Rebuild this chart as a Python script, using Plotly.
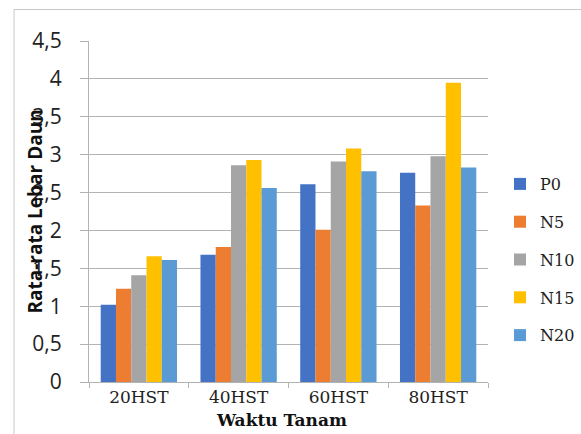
import plotly.graph_objects as go

# Umur tanaman (hari setelah tanam)
waktu = ["20HST", "40HST", "60HST", "80HST"]

# Rata-rata lebar daun per perlakuan
p0 = [1.02, 1.68, 2.61, 2.76]
n5 = [1.23, 1.78, 2.01, 2.33]
n10 = [1.41, 2.86, 2.91, 2.98]
n15 = [1.66, 2.93, 3.08, 3.95]
n20 = [1.61, 2.56, 2.78, 2.83]

perlakuan = ["P0", "N5", "N10", "N15", "N20"]
nilai = [p0, n5, n10, n15, n20]
warna = ["#4472C4", "#ED7D31", "#A5A5A5", "#FFC000", "#5B9BD5"]

y_ticks = [0, 0.5, 1, 1.5, 2, 2.5, 3, 3.5, 4, 4.5]
y_labels = ["0", "0,5", "1", "1,5", "2", "2,5", "3", "3,5", "4", "4,5"]

W, H = 581, 434
ML, MR, MT, MB = 89, 93, 41, 52
pw, ph = W - ML - MR, H - MT - MB

fig = go.Figure()
for nama, vals, c in zip(perlakuan, nilai, warna):
    fig.add_trace(go.Bar(
        x=waktu, y=vals, name=nama, marker_color=c,
        marker_line_width=0, legendgroup=nama,
    ))

grid = "#b3b3b3"
fig.update_layout(
    width=W, height=H,
    margin=dict(l=ML, r=MR, t=MT, b=MB, pad=0, autoexpand=False),
    paper_bgcolor="white", plot_bgcolor="white",
    barmode="group", bargap=0.235, bargroupgap=0,
    showlegend=True,
    legend=dict(
        x=(500 - ML) / pw, y=(H - MB - 167) / ph, xanchor="left", yanchor="top",
        font=dict(family="DejaVu Serif", size=16, color="#222"),
        tracegroupgap=14, itemwidth=30, bgcolor="rgba(0,0,0,0)",
    ),
    xaxis=dict(
        showline=True, linecolor=grid, linewidth=1,
        ticks="outside", tickson="boundaries", ticklen=5, tickcolor=grid,
        tickfont=dict(family="DejaVu Serif", size=17, color="#222"),
        showgrid=False,
    ),
    yaxis=dict(
        range=[0, 4.5], tickvals=y_ticks, ticktext=y_labels,
        showgrid=True, gridcolor=grid, gridwidth=1,
        showline=True, linecolor=grid, linewidth=1,
        ticks="outside", ticklen=8, tickcolor=grid,
        ticklabelstandoff=14,
        tickfont=dict(family="Open Sans", size=21, color="#222"),
        zeroline=False,
    ),
    annotations=[
        dict(
            text="<b>Rata-rata Lebar Daun</b>", textangle=-90,
            xref="paper", yref="paper",
            x=(34 - ML) / pw, y=0.5, xanchor="center", yanchor="middle",
            showarrow=False,
            font=dict(family="Open Sans", size=19, color="#111"),
        ),
        dict(
            text="<b>Waktu Tanam</b>",
            xref="paper", yref="paper",
            x=(281 - ML) / pw, y=-(420 - (H - MB)) / ph,
            xanchor="center", yanchor="middle", showarrow=False,
            font=dict(family="DejaVu Serif", size=17, color="#111"),
        ),
    ],
    shapes=[
        dict(
            type="rect", xref="paper", yref="paper",
            x0=(14 - ML) / pw, x1=(W + 10 - ML) / pw,
            y0=-(H + 10 - (H - MB)) / ph, y1=1 + (MT - 9.5) / ph,
            line=dict(color="#c8c8c8", width=1), layer="below",
        ),
    ],
)

fig.write_html("out.html")
